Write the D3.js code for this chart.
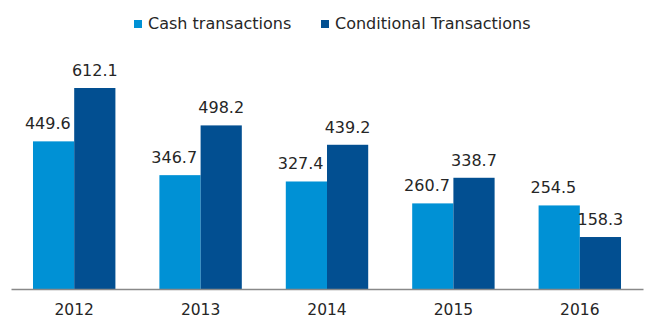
<!DOCTYPE html>
<html><head><meta charset="utf-8">
<script src="https://cdn.jsdelivr.net/npm/d3@7"></script>
<style>body{margin:0;background:#fff}svg{display:block}text{font-family:Verdana,"DejaVu Sans",sans-serif;fill:#262626}</style>
</head><body>
<svg id="c" width="650" height="326"></svg>
<script>
const categories = ["2012","2013","2014","2015","2016"];
const seriesNames = ["Cash transactions","Conditional Transactions"];
const cashValues = [449.6,346.7,327.4,260.7,254.5];
const conditionalValues = [612.1,498.2,439.2,338.7,158.3];
const colors = ["#0091d5","#024f91"];

const svg = d3.select("#c");
const x0 = d3.scaleBand().domain(categories).range([11,643]).paddingInner(0.348).paddingOuter(0.174);
const x1 = d3.scaleBand().domain([0,1]).range([0,x0.bandwidth()]);
const y = d3.scaleLinear().domain([0,612.1]).range([289,88]);

const data = categories.map((c,i)=>({c, v:[cashValues[i],conditionalValues[i]]}));
const g = svg.append("g");
const grp = g.selectAll("g.cat").data(data).join("g").attr("transform",d=>`translate(${x0(d.c)},0)`);
grp.selectAll("rect").data(d=>d.v.map((v,k)=>({v,k}))).join("rect")
  .attr("x",d=>x1(d.k)).attr("width",x1.bandwidth())
  .attr("y",d=>y(d.v)).attr("height",d=>y(0)-y(d.v)).attr("fill",d=>colors[d.k]);
grp.selectAll("text").data(d=>d.v.map((v,k)=>({v,k}))).join("text")
  .attr("x",d=>d.k===0 ? x1(1)-3.5 : x1(d.k)+x1.bandwidth()/2).attr("y",d=>y(d.v)-12)
  .attr("text-anchor",d=>d.k===0?"end":"middle").style("font-size","16px").text(d=>d3.format(".1f")(d.v));

const ax = d3.scaleBand().domain(categories).range([11,643]);
const axis = svg.append("g").attr("transform","translate(0,289)").call(d3.axisBottom(ax).tickSize(0).tickPadding(15));
axis.select(".domain").attr("stroke","#898989").attr("stroke-width",1.3);
axis.selectAll("text").style("font-size","15.5px").style("font-family",'Verdana,"DejaVu Sans",sans-serif').attr("fill","#262626");

const leg = [{x:134,t:0},{x:321,t:1}];
leg.forEach(l=>{
  svg.append("rect").attr("x",l.x).attr("y",20).attr("width",8).attr("height",8).attr("fill",colors[l.t]);
  svg.append("text").attr("x",l.x+14).attr("y",29).style("font-size","16px").text(seriesNames[l.t]);
});
</script>
</body></html>
